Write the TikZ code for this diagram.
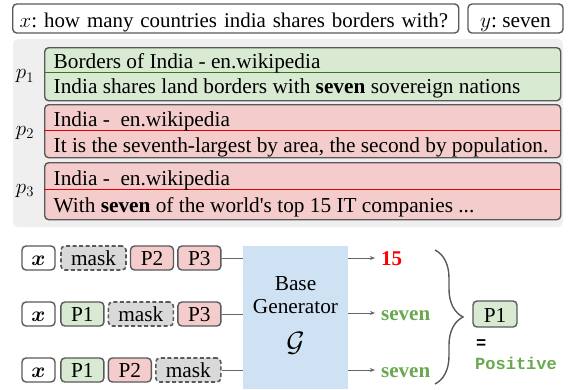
\documentclass[tikz,border=0pt]{standalone}
\usepackage{fix-cm}
\usepackage{amsmath}
\usepackage{fontspec}
\setmainfont{Liberation Serif}
\setmonofont{Liberation Mono}
\usetikzlibrary{positioning,arrows.meta,decorations.pathreplacing}

\definecolor{boxline}{HTML}{595959}
\definecolor{bgfill}{HTML}{EFEFEF}
\definecolor{grnfill}{HTML}{D9EAD3}
\definecolor{grnrule}{HTML}{38761D}
\definecolor{redfill}{HTML}{F4CCCC}
\definecolor{redrule}{HTML}{E00000}
\definecolor{maskfill}{HTML}{D9D9D9}
\definecolor{genfill}{HTML}{CFE2F3}
\definecolor{outgreen}{HTML}{6AA84F}
\definecolor{outred}{HTML}{FF0000}
\definecolor{linkgray}{HTML}{666666}

\begin{document}
\frenchspacing
\begin{tikzpicture}[x=1pt, y=-1pt, font=\fontsize{21.3}{24}\selectfont,
  box/.style={draw=boxline, line width=1.4pt, rounded corners=4pt},
  topbox/.style={box, minimum height=29pt, inner ysep=0pt, text height=19pt, text depth=2pt},
  pbox/.style={box, anchor=north west, minimum width=516pt},
  ptext/.style={anchor=base west, inner sep=0pt},
  plabel/.style={font=\fontsize{21}{24}\selectfont},
  tok/.style={box, minimum height=24pt, inner xsep=0pt, inner ysep=0pt, text height=15pt, text depth=1pt},
  xtok/.style={tok, minimum width=33pt},
  gtok/.style={tok, fill=grnfill, minimum width=43pt},
  rtok/.style={tok, fill=redfill, minimum width=43pt},
  mtok/.style={tok, fill=maskfill, line width=1.6pt, dash pattern=on 4pt off 2.5pt, minimum width=65pt},
  link/.style={draw=linkgray, line width=1pt},
  outarrow/.style={link, -{Stealth[length=5pt, width=4pt]}},
  outlbl/.style={anchor=west, inner ysep=0pt, inner xsep=6pt, text height=14pt, text depth=0pt, font=\fontsize{21}{24}\selectfont\bfseries},
  gentxt/.style={anchor=base, inner sep=0pt},
  mono/.style={anchor=base west, inner sep=0pt, font=\fontsize{17}{20}\selectfont\ttfamily\bfseries}]
\useasboundingbox (0,0) rectangle (568,389);

% question and answer
\node[topbox, anchor=west, text width=432pt, inner xsep=7pt, font=\fontsize{20.9}{24}\selectfont] (q) at (12,18.5) {\mbox{$x$: how many countries india shares borders with?}};
\node[topbox, minimum width=95pt, inner xsep=0pt] (a) at (515.5,18.5) {$y$: seven};

% retrieved passages
\fill[bgfill, rounded corners=5pt] (13,39) rectangle (563,227);

\node[pbox, fill=grnfill, minimum height=53pt] (p1) at (44,47) {};
\draw[grnrule, line width=1.4pt] ([yshift=1.5pt]p1.west) -- ([yshift=1.5pt]p1.east);
\node[ptext] (p1a) at (53.5,68) {Borders of India - en.wikipedia};
\node[ptext] (p1b) at (53.5,93) {India shares land borders with \textbf{seven} sovereign nations};
\node[plabel] (l1) at (25,76.5) {$p_1$};

\node[pbox, fill=redfill, minimum height=53pt] (p2) at (44,104) {};
\draw[redrule, line width=1.4pt] ([yshift=0.5pt]p2.west) -- ([yshift=0.5pt]p2.east);
\node[ptext] (p2a) at (53.5,126) {India -\ \ en.wikipedia};
\node[ptext] (p2b) at (53.5,152) {It is the seventh-largest by area, the second by population.};
\node[plabel] (l2) at (25,133) {$p_2$};

\node[pbox, fill=redfill, minimum height=57pt] (p3) at (44,162) {};
\draw[redrule, line width=1.4pt] ([yshift=1.5pt]p3.west) -- ([yshift=1.5pt]p3.east);
\node[ptext] (p3a) at (53.5,185) {India -\ \ en.wikipedia};
\node[ptext] (p3b) at (53.5,212) {With \textbf{seven} of the world\textquotesingle s top 15 IT companies ...};
\node[plabel] (l3) at (25,191) {$p_3$};

% masked inputs
\node[xtok] (r1x) at (38.5,258) {$\boldsymbol{x}$};
\node[mtok, right=4.5pt of r1x] (r1m) {mask};
\node[rtok, right=3pt of r1m] (r1b) {P2};
\node[rtok, right=3pt of r1b] (r1c) {P3};

\node[xtok] (r2x) at (38.5,314) {$\boldsymbol{x}$};
\node[gtok, right=4.5pt of r2x] (r2a) {P1};
\node[mtok, right=3pt of r2a] (r2m) {mask};
\node[rtok, right=3pt of r2m] (r2c) {P3};

\node[xtok] (r3x) at (38.5,370) {$\boldsymbol{x}$};
\node[gtok, right=4.5pt of r3x] (r3a) {P1};
\node[rtok, right=3pt of r3a] (r3b) {P2};
\node[mtok, right=3pt of r3b] (r3m) {mask};

% generator
\node[fill=genfill, minimum width=105pt, minimum height=143pt, inner sep=0pt] (gen) at (295.5,317.5) {};
\node[gentxt] (g1) at (295.5,290) {Base};
\node[gentxt] (g2) at (295.5,313) {Generator};
\node[gentxt, font=\fontsize{28}{30}\selectfont] (g3) at (295.5,351) {$\mathcal{G}$};

\draw[link] (r1c.east) -- (r1c.east -| gen.west);
\draw[link] (r2c.east) -- (r2c.east -| gen.west);
\draw[link] (r3m.east) -- (r3m.east -| gen.west);

% answers
\node[outlbl, text=outred] (o1) at (375,258) {15};
\node[outlbl, text=outgreen] (o2) at (375,313) {seven};
\node[outlbl, text=outgreen] (o3) at (375,370) {seven};
\draw[outarrow] (gen.east |- o1.west) -- (o1.west);
\draw[outarrow] (gen.east |- o2.west) -- (o2.west);
\draw[outarrow] (gen.east |- o3.west) -- (o3.west);

\coordinate (bt) at (435,250);
\coordinate (bb) at (435,384);
\draw[boxline, line width=1.4pt, decorate, decoration={brace, amplitude=28pt}] (bt) -- (bb);

\node[box, fill=grnfill, minimum width=44pt, minimum height=26pt, inner sep=0pt, text height=16pt, text depth=0pt] (res) at (495,314) {P1};
\node[mono] (eq) at (476,348) {=};
\node[mono, text=outgreen] (pos) at (475,369) {Positive};
\end{tikzpicture}
\end{document}
